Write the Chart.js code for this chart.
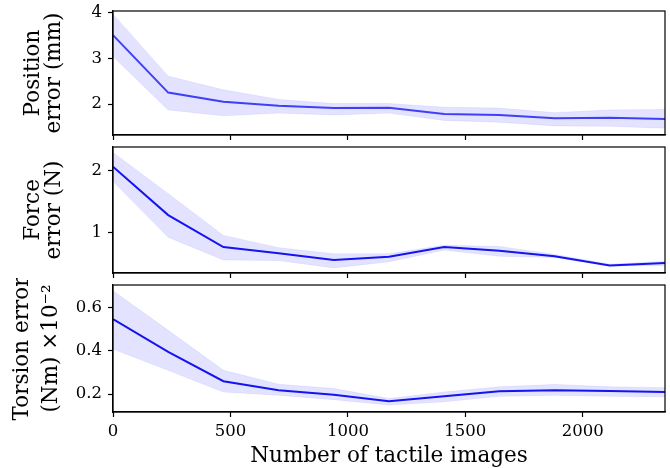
<!DOCTYPE html>
<html>
<head>
<meta charset="utf-8">
<script src="https://cdn.jsdelivr.net/npm/chart.js@4/dist/chart.umd.min.js"></script>
<style>
  html, body { margin: 0; padding: 0; background: #fff; }
  #wrap { position: relative; width: 670px; height: 468px; }
  canvas { position: absolute; left: 0; }
</style>
</head>
<body>
<div id="wrap">
  <canvas id="pos" style="top:0px"></canvas>
  <canvas id="force" style="top:141px"></canvas>
  <canvas id="torsion" style="top:278px"></canvas>
</div>
<script>
// number of tactile images
const xs = [0, 235, 470, 705, 940, 1175, 1410, 1645, 1880, 2115, 2350];
const xTicks = [0, 500, 1000, 1500, 2000];

// position error (mm)
const posMean  = [3.51, 2.25, 2.05, 1.96, 1.91, 1.92, 1.78, 1.76, 1.69, 1.70, 1.67];
const posUpper = [3.97, 2.61, 2.31, 2.10, 2.01, 2.01, 1.93, 1.91, 1.81, 1.87, 1.88];
const posLower = [3.04, 1.87, 1.74, 1.80, 1.76, 1.80, 1.64, 1.60, 1.52, 1.51, 1.47];
const posTicks = [2, 3, 4];

// force error (N)
const forceMean  = [2.07, 1.28, 0.76, 0.66, 0.55, 0.60, 0.76, 0.70, 0.61, 0.46, 0.50];
const forceUpper = [2.30, 1.63, 0.95, 0.75, 0.65, 0.65, 0.79, 0.77, 0.64, 0.48, 0.53];
const forceLower = [1.83, 0.92, 0.55, 0.54, 0.42, 0.52, 0.71, 0.61, 0.59, 0.45, 0.46];
const forceTicks = [1, 2];

// torsion error (Nm) x 10^-2
const torMean  = [0.546, 0.395, 0.260, 0.218, 0.198, 0.168, 0.190, 0.214, 0.218, 0.215, 0.210];
const torUpper = [0.677, 0.494, 0.310, 0.246, 0.226, 0.180, 0.210, 0.234, 0.245, 0.234, 0.230];
const torLower = [0.408, 0.310, 0.210, 0.195, 0.175, 0.150, 0.165, 0.190, 0.195, 0.190, 0.188];
const torTicks = [0.2, 0.4, 0.6];

const pts = arr => arr.map((v, i) => ({ x: xs[i], y: v }));

// draws the full box round the plot area
const frame = {
  id: 'frame',
  afterDraw(chart) {
    const a = chart.chartArea, c = chart.ctx;
    c.save();
    c.strokeStyle = '#000';
    c.lineWidth = 1.2;
    c.strokeRect(a.left, a.top, a.right - a.left, a.bottom - a.top);
    c.restore();
  }
};

function panel(id, h, padTop, xHeight, mean, upper, lower, lineColor, yMin, yMax, yTicks, yTitle, titleOpts, showX) {
  const cv = document.getElementById(id);
  cv.width = 670; cv.height = h;
  cv.style.width = '670px'; cv.style.height = h + 'px';
  return new Chart(cv, {
    type: 'line',
    data: {
      datasets: [
        { data: pts(mean), borderColor: lineColor, borderWidth: 2, pointRadius: 0, fill: false },
        { data: pts(upper), borderColor: 'rgba(0,0,255,0.07)', borderWidth: 1, pointRadius: 0,
          backgroundColor: 'rgba(0,0,255,0.11)', fill: '+1' },
        { data: pts(lower), borderColor: 'rgba(0,0,255,0.07)', borderWidth: 1, pointRadius: 0, fill: false }
      ]
    },
    options: {
      responsive: false,
      animation: false,
      layout: { padding: { top: padTop, right: 5, bottom: 0, left: 0 } },
      plugins: { legend: { display: false }, tooltip: { enabled: false } },
      scales: {
        x: {
          type: 'linear', min: 0, max: 2350,
          afterBuildTicks: s => { s.ticks = xTicks.map(v => ({ value: v })); },
          afterFit: s => { s.height = xHeight; s.paddingLeft = 0; s.paddingRight = 0; },
          grid: { drawOnChartArea: false, color: '#000', tickLength: 5, tickWidth: 1.2 },
          border: { color: '#000', width: 1.2 },
          ticks: { display: showX, color: '#000', padding: 5, maxRotation: 0,
                   font: { family: 'DejaVu Serif', size: 16.5 }, callback: v => String(v) },
          title: { display: showX, text: 'Number of tactile images', color: '#000',
                   padding: { top: 0, bottom: 1 },
                   font: { family: 'DejaVu Serif', size: 21.5, lineHeight: 1.0 } }
        },
        y: {
          min: yMin, max: yMax,
          afterBuildTicks: s => { s.ticks = yTicks.map(v => ({ value: v })); },
          afterFit: s => { s.width = 113; s.paddingTop = 0; s.paddingBottom = 0; },
          grid: { drawOnChartArea: false, color: '#000', tickLength: 5, tickWidth: 1.2 },
          border: { color: '#000', width: 1.2 },
          ticks: { color: '#000', padding: 6, font: { family: 'DejaVu Serif', size: 16.5 },
                   callback: v => String(v) },
          title: Object.assign({ display: true, text: yTitle, color: '#000' }, titleOpts)
        }
      }
    },
    plugins: [frame]
  });
}

panel('pos', 141, 11, 6, posMean, posUpper, posLower, 'rgba(40,40,245,0.88)',
  1.32, 4.04, posTicks, ['Position', 'error (mm)'],
  { padding: { top: 22.5 }, font: { family: 'DejaVu Serif', size: 21.5, lineHeight: 0.98 } }, false);

panel('force', 137, 6, 5, forceMean, forceUpper, forceLower, '#1414ee',
  0.337, 2.39, forceTicks, ['Force', 'error (N)'],
  { padding: { top: 22.5 }, font: { family: 'DejaVu Serif', size: 21.5, lineHeight: 0.98 } }, false);

panel('torsion', 190, 7, 56, torMean, torUpper, torLower, '#1414ee',
  0.118, 0.703, torTicks, ['Torsion error', '(Nm) \u00d710\u207b\u00b2'],
  { padding: { top: 8 }, font: { family: 'DejaVu Serif', size: 21.5, lineHeight: 1.35 } }, true);
</script>
</body>
</html>
